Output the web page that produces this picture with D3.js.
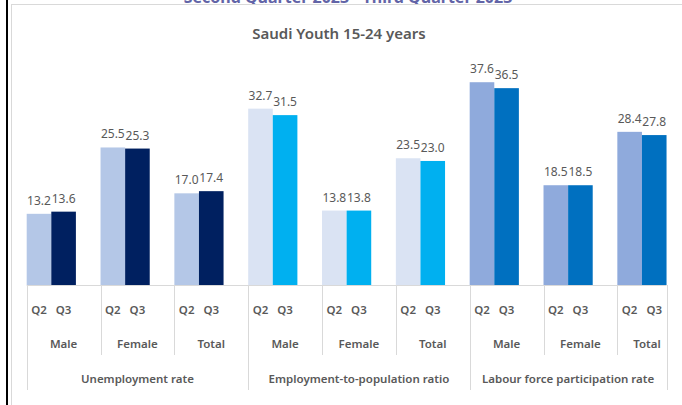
<!DOCTYPE html>
<html>
<head>
<meta charset="utf-8">
<script src="https://cdn.jsdelivr.net/npm/d3@7"></script>
<style>
  body { margin: 0; background: #fff; }
  svg { display: block; font-family: "Noto Sans", "Open Sans", sans-serif; }
  .label { fill: #595959; font-size: 12px; }
  .tick-label { fill: #595959; font-size: 11.5px; font-weight: 600; }
</style>
</head>
<body>
<div id="chart"></div>
<script>
// data
const groups = ["Unemployment rate", "Employment-to-population ratio", "Labour force participation rate"];
const categories = ["Male", "Female", "Total"];
const quarters = ["Q2", "Q3"];
const q2Values = [13.2, 25.5, 17.0, 32.7, 13.8, 23.5, 37.6, 18.5, 28.4];
const q3Values = [13.6, 25.3, 17.4, 31.5, 13.8, 23.0, 36.5, 18.5, 27.8];
const q2Colors = ["#b4c7e7", "#dae3f3", "#8faadc"];
const q3Colors = ["#002060", "#00b0f0", "#0070c0"];

window.addEventListener("load", () => {

  const width = 682;
  const height = 405;

  const svg = d3.select("#chart").append("svg")
                .attr("width", width)
                .attr("height", height);

  // clipped heading from the page above
  svg.append("text")
     .attr("x", 348)
     .attr("y", 3)
     .attr("text-anchor", "middle")
     .attr("fill", "#6264a7")
     .style("font-size", "16px")
     .style("font-weight", "700")
     .text("Second Quarter 2023 - Third Quarter 2023");

  // frame lines
  svg.append("rect").attr("x", 0).attr("y", 4).attr("width", width).attr("height", height).attr("fill", "#fff");
  svg.append("line")
     .attr("x1", 11).attr("x2", width).attr("y1", 4.5).attr("y2", 4.5)
     .attr("stroke", "#d9d9d9");
  svg.append("line")
     .attr("x1", 11.5).attr("x2", 11.5).attr("y1", 4).attr("y2", height)
     .attr("stroke", "#d9d9d9");
  svg.append("rect")
     .attr("x", 6).attr("y", 0).attr("width", 2).attr("height", height)
     .attr("fill", "#000");

  // title
  svg.append("text")
     .attr("x", 339)
     .attr("y", 38.5)
     .attr("text-anchor", "middle")
     .attr("fill", "#595959")
     .style("font-size", "15px")
     .style("font-weight", "600")
     .text("Saudi Youth 15-24 years");

  // build rows
  const rows = [];
  groups.forEach((g, gi) => {
    categories.forEach((c, ci) => {
      const i = gi * categories.length + ci;
      rows.push({group: g, gi: gi, category: c, key: `${gi}-${c}`, values: [q2Values[i], q3Values[i]]});
    });
  });

  // scales
  const step = 73.83;
  const x0 = 26.7;
  const x = d3.scaleBand()
              .domain(rows.map(d => d.key))
              .range([x0, x0 + step * rows.length])
              .padding(0);

  const xInner = d3.scaleBand()
                   .domain(quarters)
                   .range([0, 49.2])
                   .padding(0);

  const baseY = 285;
  const y = d3.scaleLinear()
              .domain([0, 40])
              .range([baseY, baseY - 40 * 5.393]);

  const xEnd = x(rows[rows.length - 1].key) + xInner.range()[1];

  // bars
  const gBars = svg.append("g");
  rows.forEach(d => {
    d.values.forEach((v, qi) => {
      const bx = x(d.key) + xInner(quarters[qi]);
      gBars.append("rect")
           .attr("x", bx)
           .attr("y", y(v))
           .attr("width", xInner.bandwidth())
           .attr("height", baseY - y(v))
           .attr("fill", qi === 0 ? q2Colors[d.gi] : q3Colors[d.gi]);

      gBars.append("text")
           .attr("class", "label")
           .attr("x", bx + xInner.bandwidth() / 2)
           .attr("y", y(v) - 9)
           .attr("text-anchor", "middle")
           .text(v.toFixed(1));
    });
  });

  // axis
  const gAxis = svg.append("g");
  const axisColor = "#d9d9d9";

  gAxis.append("line")
       .attr("x1", x0).attr("x2", xEnd)
       .attr("y1", baseY + 0.5).attr("y2", baseY + 0.5)
       .attr("stroke", axisColor);

  rows.forEach((d, i) => {
    const sx = Math.round(x(d.key)) + 0.5;
    gAxis.append("line")
         .attr("x1", sx).attr("x2", sx)
         .attr("y1", baseY).attr("y2", i % 3 === 0 ? 390 : 355)
         .attr("stroke", axisColor);

    quarters.forEach(q => {
      gAxis.append("text")
           .attr("class", "tick-label")
           .attr("x", x(d.key) + xInner(q) + xInner.bandwidth() / 2)
           .attr("y", 314)
           .attr("text-anchor", "middle")
           .text(q);
    });

    // last band is cut at the end of its bars
    const bandEnd = i === rows.length - 1 ? xEnd + 10 : x(d.key) + step;
    gAxis.append("text")
         .attr("class", "tick-label")
         .attr("x", (x(d.key) + bandEnd) / 2)
         .attr("y", 348)
         .attr("text-anchor", "middle")
         .text(d.category);
  });

  // closing separator
  gAxis.append("line")
       .attr("x1", Math.round(xEnd) + 0.5).attr("x2", Math.round(xEnd) + 0.5)
       .attr("y1", baseY).attr("y2", 390)
       .attr("stroke", axisColor);

  // group labels
  groups.forEach((g, gi) => {
    const start = x(rows[gi * 3].key);
    const end = gi === groups.length - 1 ? xEnd : x(rows[gi * 3 + 3].key);
    gAxis.append("text")
         .attr("class", "tick-label")
         .attr("x", (start + end) / 2)
         .attr("y", 383)
         .attr("text-anchor", "middle")
         .text(g);
  });
});
</script>
</body>
</html>
